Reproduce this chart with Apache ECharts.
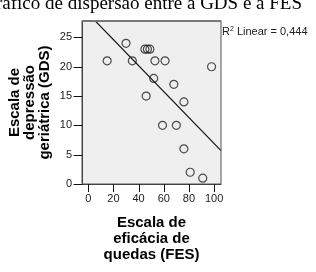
<!DOCTYPE html>
<html>
<head>
<meta charset="utf-8">
<script src="https://cdn.jsdelivr.net/npm/echarts@6/dist/echarts.min.js"></script>
<style>
  html, body { margin: 0; padding: 0; background: #fff; }
  #chart { width: 316px; height: 272px; }
</style>
</head>
<body>
<div id="chart"></div>
<script>
// FES (x) e GDS (y)
const fesValues = [15, 30, 35, 45, 47, 49, 53, 61, 52, 68, 46, 76, 59, 70, 76, 81, 91, 98];
const gdsValues = [21, 24, 21, 23, 23, 23, 21, 21, 18, 17, 15, 14, 10, 10, 6, 2, 1, 20];
const xTicks = [0, 20, 40, 60, 80, 100];
const yTicks = [0, 5, 10, 15, 20, 25];
const fitLabel = "0,444";

const points = fesValues.map((x, i) => [x, gdsValues[i]]);

// least squares fit, drawn across the whole x range
const n = points.length;
const mx = fesValues.reduce((a, b) => a + b, 0) / n;
const my = gdsValues.reduce((a, b) => a + b, 0) / n;
let sxy = 0, sxx = 0;
points.forEach(([x, y]) => {
  sxy += (x - mx) * (y - my);
  sxx += (x - mx) * (x - mx);
});
const slope = sxy / sxx;
const intercept = my - slope * mx;
const xMin = -5, xMax = 105.5;
const yMin = 0, yMax = 27.8;
const fitLine = [[xMin, intercept + slope * xMin], [xMax, intercept + slope * xMax]];

const sans = "Liberation Sans, Arial, sans-serif";
const chart = echarts.init(document.getElementById("chart"));

// tick marks outside the frame, placed through the axes' scales
function tickSeries(data, dx, dy) {
  return {
    type: "custom",
    data: data,
    clip: false,
    silent: true,
    z: 20,
    renderItem: (params, api) => {
      const p = api.coord([api.value(0), api.value(1)]);
      const x = Math.round(p[0]) + 0.5, y = Math.round(p[1]) + 0.5;
      return {
        type: "rect",
        shape: { x: dx ? x + dx : x - 0.5, y: dy ? y - 0.5 : y - 0.5, width: dx ? -dx : 1, height: dy ? dy : 1 },
        style: { fill: "#111" }
      };
    }
  };
}

chart.setOption({
  animation: false,
  grid: { left: 82, top: 21, right: 95, bottom: 88, show: true, backgroundColor: "#efefef", borderWidth: 0 },
  xAxis: {
    type: "value",
    min: xMin,
    max: xMax,
    position: "bottom",
    name: "Escala de\neficácia de\nquedas (FES)",
    nameLocation: "middle",
    nameGap: 31,
    nameTextStyle: { fontFamily: sans, fontSize: 15, fontWeight: "bold", color: "#000", lineHeight: 16 },
    axisLine: { show: true, onZero: false, lineStyle: { color: "#333", width: 1 } },
    axisTick: { show: false },
    axisLabel: { customValues: xTicks, margin: 9, fontFamily: sans, fontSize: 11, color: "#222" },
    splitLine: { show: false }
  },
  yAxis: {
    type: "value",
    min: yMin,
    max: yMax,
    name: "Escala de\ndepressão\ngeriátrica (GDS)",
    nameLocation: "middle",
    nameRotate: 90,
    nameGap: 30,
    nameTextStyle: { fontFamily: sans, fontSize: 15, fontWeight: "bold", color: "#000", lineHeight: 15 },
    axisLine: { show: true, onZero: false, lineStyle: { color: "#333", width: 1 } },
    axisTick: { show: false },
    axisLabel: { customValues: yTicks, margin: 10, fontFamily: sans, fontSize: 11, color: "#222" },
    splitLine: { show: false }
  },
  graphic: [
    {
      type: "text",
      right: 14,
      top: -5,
      style: {
        text: "Gráfico de dispersão entre a GDS e a FES",
        font: "19px 'Liberation Serif', 'Times New Roman', serif",
        fill: "#000"
      }
    },
    {
      type: "rect",
      shape: { x: 82, y: 20.5, width: 139, height: 163.5 },
      style: { fill: "none", stroke: "#555", lineWidth: 1 },
      z: 10
    },
    {
      type: "line",
      shape: { x1: 82, y1: 21, x2: 221, y2: 21 },
      style: { stroke: "#777", lineWidth: 2 },
      z: 10
    },
    {
      type: "text",
      left: 222,
      top: 26,
      style: {
        text: "{r|R}{s|2}{r| Linear = " + fitLabel + "}",
        rich: {
          r: { fontFamily: sans, fontSize: 11, fill: "#222", verticalAlign: "bottom" },
          s: { fontFamily: sans, fontSize: 7, fill: "#222", verticalAlign: "top" }
        }
      }
    }
  ],
  series: [
    tickSeries(yTicks.map(v => [xMin, v]), -9, 0),
    tickSeries(xTicks.map(v => [v, yMin]), 0, 8),
    {
      type: "line",
      data: fitLine,
      showSymbol: false,
      clip: true,
      lineStyle: { color: "#111", width: 1.2 },
      silent: true
    },
    {
      type: "scatter",
      data: points,
      symbol: "circle",
      symbolSize: 8,
      itemStyle: { color: "rgba(0,0,0,0)", borderColor: "#222", borderWidth: 1.2 }
    }
  ]
});
</script>
</body>
</html>
